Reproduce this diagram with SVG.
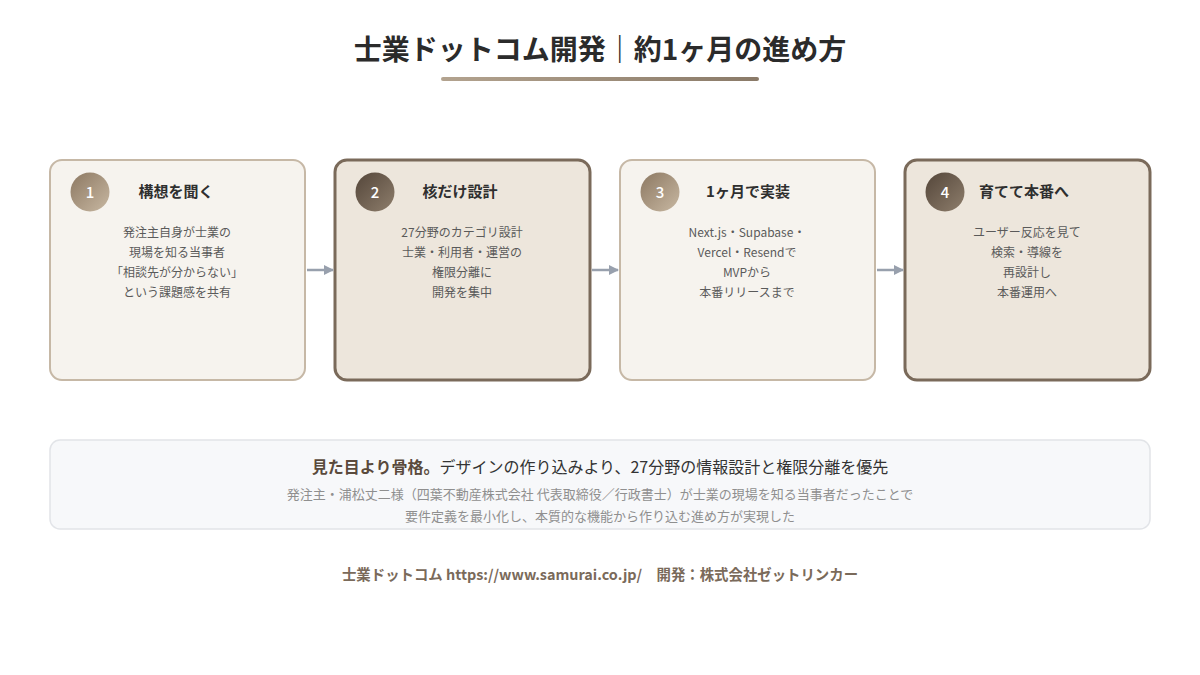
<svg xmlns="http://www.w3.org/2000/svg" width="1200" height="675" viewBox="0 0 1200 675">
<defs>
<linearGradient id="bar" x1="0" x2="1" y1="0" y2="0"><stop offset="0" stop-color="#b3a38f"/><stop offset="1" stop-color="#8a7a68"/></linearGradient>
<linearGradient id="cLight" x1="0" y1="0" x2="1" y2="1"><stop offset="0" stop-color="#8c7862"/><stop offset="1" stop-color="#c8b8a2"/></linearGradient>
<linearGradient id="cDark" x1="0" y1="0" x2="1" y2="1"><stop offset="0" stop-color="#54463a"/><stop offset="1" stop-color="#8e7e6c"/></linearGradient>
<marker id="ah" viewBox="0 0 10 10" refX="9" refY="5" markerWidth="10" markerHeight="10" markerUnits="userSpaceOnUse" orient="auto"><path d="M0,0 L10,5 L0,10 z" fill="#98a0ad"/></marker>
<style>
text{font-family:"Noto Sans CJK JP","Noto Sans",sans-serif;}
.title{font-size:28px;font-weight:700;fill:#2b2b2b;text-anchor:middle;}
.cardL{fill:#f6f3ee;stroke:#c6b8a6;stroke-width:2;}
.cardD{fill:#ede6dc;stroke:#7a6a5a;stroke-width:3;}
.num{font-size:15px;font-weight:500;fill:#fff;text-anchor:middle;}
.head{font-size:15px;font-weight:700;fill:#2f2f2f;text-anchor:middle;}
.body{font-size:12px;fill:#5a5a5a;text-anchor:middle;}
.conn{stroke:#98a0ad;stroke-width:2.5;fill:none;}
.lead{font-size:16px;fill:#333;text-anchor:middle;}
.sub{font-size:13px;fill:#8f8f8f;text-anchor:middle;}
.foot{font-size:14.4px;font-weight:700;fill:#7a6a5a;text-anchor:middle;}
</style>
</defs>
<rect width="1200" height="675" fill="#ffffff"/>
<text class="title" x="600" y="60">士業ドットコム開発｜約1ヶ月の進め方</text>
<rect x="441" y="77" width="318" height="4" rx="2" fill="url(#bar)"/>

<g id="step1">
<rect class="cardL" x="50" y="160" width="255" height="220" rx="12"/>
<circle cx="90" cy="192" r="19.5" fill="url(#cLight)"/>
<text class="num" x="90" y="197.5">1</text>
<text class="head" x="176" y="197">構想を聞く</text>
<text class="body" x="177" y="237">発注主自身が士業の</text>
<text class="body" x="177" y="257">現場を知る当事者</text>
<text class="body" x="177" y="277">「相談先が分からない」</text>
<text class="body" x="177" y="297">という課題感を共有</text>
</g>

<g id="step2">
<rect class="cardD" x="335" y="160" width="255" height="220" rx="12"/>
<circle cx="375" cy="192" r="19.5" fill="url(#cDark)"/>
<text class="num" x="375" y="197.5">2</text>
<text class="head" x="460" y="197">核だけ設計</text>
<text class="body" x="462" y="237">27分野のカテゴリ設計</text>
<text class="body" x="462" y="257">士業・利用者・運営の</text>
<text class="body" x="462" y="277">権限分離に</text>
<text class="body" x="462" y="297">開発を集中</text>
</g>

<g id="step3">
<rect class="cardL" x="620" y="160" width="255" height="220" rx="12"/>
<circle cx="660" cy="192" r="19.5" fill="url(#cLight)"/>
<text class="num" x="660" y="197.5">3</text>
<text class="head" x="748" y="197">1ヶ月で実装</text>
<text class="body" x="747" y="237">Next.js・Supabase・</text>
<text class="body" x="747" y="257">Vercel・Resendで</text>
<text class="body" x="747" y="277">MVPから</text>
<text class="body" x="747" y="297">本番リリースまで</text>
</g>

<g id="step4">
<rect class="cardD" x="905" y="160" width="245" height="220" rx="12"/>
<circle cx="945" cy="192" r="19.5" fill="url(#cDark)"/>
<text class="num" x="945" y="197.5">4</text>
<text class="head" x="1024" y="197">育てて本番へ</text>
<text class="body" x="1027" y="237">ユーザー反応を見て</text>
<text class="body" x="1027" y="257">検索・導線を</text>
<text class="body" x="1027" y="277">再設計し</text>
<text class="body" x="1027" y="297">本番運用へ</text>
</g>

<g id="connectors">
<line class="conn" x1="307" y1="270" x2="333" y2="270" marker-end="url(#ah)"/>
<line class="conn" x1="592" y1="270" x2="618" y2="270" marker-end="url(#ah)"/>
<line class="conn" x1="877" y1="270" x2="903" y2="270" marker-end="url(#ah)"/>
</g>

<g id="summary">
<rect x="50" y="440" width="1100" height="89" rx="10" fill="#f7f8fa" stroke="#e2e4e8" stroke-width="1.5"/>
<text class="lead" x="600" y="473"><tspan font-weight="700" fill="#5a4a3c">見た目より骨格。</tspan>デザインの作り込みより、27分野の情報設計と権限分離を優先</text>
<text class="sub" x="600" y="499">発注主・浦松丈二様（四葉不動産株式会社 代表取締役／行政書士）が士業の現場を知る当事者だったことで</text>
<text class="sub" x="600" y="521">要件定義を最小化し、本質的な機能から作り込む進め方が実現した</text>
</g>

<text class="foot" x="600" y="580">士業ドットコム https://www.samurai.co.jp/　開発：株式会社ゼットリンカー</text>
</svg>
